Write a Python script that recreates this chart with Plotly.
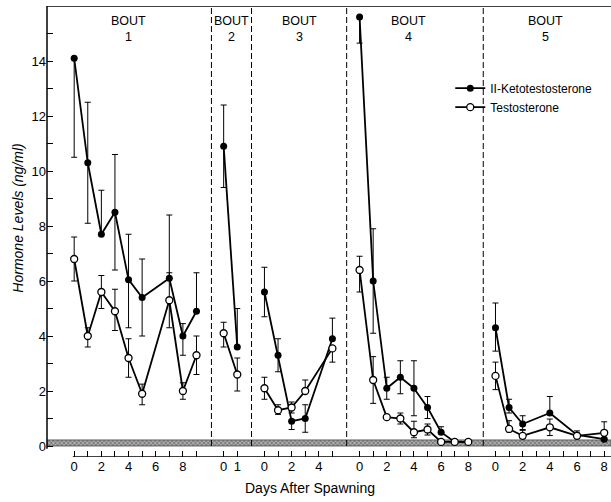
import plotly.graph_objects as go

# ---------------- data ----------------
bout_names = ["BOUT<br>1", "BOUT<br>2", "BOUT<br>3", "BOUT<br>4", "BOUT<br>5"]
bout_offsets = [0, 11, 14, 21, 31]          # position of day 0 of each bout on the shared axis
bout_last_day = [9, 1, 5, 8, 8]             # last tick of each bout
bout_label_step = [2, 1, 2, 2, 2]
bout_centers = [4.0, 11.6, 16.6, 24.6, 34.7]
dividers = [10.1, 13.05, 20.05, 30.1]

# 11-Ketotestosterone
kt_days = [[0, 1, 2, 3, 4, 5, 7, 8, 9], [0, 1], [0, 1, 2, 3, 5],
           [0, 1, 2, 3, 4, 5, 6, 7, 8], [0, 1, 2, 4, 6, 8]]
kt_vals = [[14.1, 10.3, 7.7, 8.5, 6.05, 5.4, 6.1, 4.0, 4.9],
           [10.9, 3.6],
           [5.6, 3.3, 0.9, 1.0, 3.9],
           [15.6, 6.0, 2.1, 2.5, 2.1, 1.4, 0.5, 0.15, 0.15],
           [4.3, 1.4, 0.8, 1.2, 0.4, 0.25]]
kt_err_up = [[0, 2.2, 1.6, 2.1, 1.65, 1.4, 2.3, 0.45, 1.4],
             [1.5, 1.4],
             [0.9, 0.6, 0, 0.5, 0.75],
             [0, 1.9, 0.4, 0.6, 1.0, 0.4, 0.2, 0, 0],
             [0.9, 0.3, 0.3, 0.6, 0.15, 0]]
kt_err_dn = [[3.6, 2.2, 0, 2.1, 1.75, 1.4, 0, 0.7, 0],
             [1.5, 0],
             [0.9, 0.6, 0.3, 0.5, 0],
             [0.95, 1.9, 0.4, 0.6, 1.0, 0.4, 0, 0, 0],
             [0.85, 0.2, 0.2, 0, 0, 0]]

# Testosterone
t_days = [[0, 1, 2, 3, 4, 5, 7, 8, 9], [0, 1], [0, 1, 2, 3, 5],
          [0, 1, 2, 3, 4, 5, 6, 7, 8], [0, 1, 2, 4, 6, 8]]
t_vals = [[6.8, 4.0, 5.6, 4.9, 3.2, 1.9, 5.3, 2.0, 3.3],
          [4.1, 2.6],
          [2.1, 1.3, 1.4, 2.0, 3.55],
          [6.4, 2.4, 1.05, 1.0, 0.5, 0.6, 0.15, 0.15, 0.15],
          [2.55, 0.62, 0.37, 0.68, 0.37, 0.48]]
t_err_up = [[0.8, 0.3, 0.6, 0.8, 0.7, 0.35, 1.0, 0.3, 0.7],
            [0.4, 0.6],
            [0.4, 0.2, 0.2, 0.4, 0],
            [0.5, 0.85, 0, 0.2, 0.4, 0.2, 0, 0, 0],
            [0.5, 0.3, 0.2, 0.3, 0.1, 0.4]]
t_err_dn = [[0.8, 0.4, 0.6, 0.7, 0.7, 0.4, 1.0, 0.3, 0.7],
            [0.5, 0.6],
            [0.4, 0.15, 0.2, 0, 0.5],
            [0.8, 0.85, 0, 0.2, 0.2, 0.2, 0, 0, 0],
            [0.5, 0.1, 0.1, 0.3, 0.1, 0.2]]

y_ticks = [0, 2, 4, 6, 8, 10, 12, 14]
y_minor = [1, 3, 5, 7, 9, 11, 13, 15]
band_top = 0.22
x_min, x_max = -2.0, 39.5
y_min, y_max = -0.4, 16.0

FONT = "Liberation Sans, Arial, sans-serif"


def join(groups_days, groups_vals, groups_up, groups_dn):
    xs, ys, ups, dns = [], [], [], []
    for off, d, v, u, n in zip(bout_offsets, groups_days, groups_vals, groups_up, groups_dn):
        xs += [off + k for k in d] + [None]
        ys += list(v) + [None]
        ups += list(u) + [0]
        dns += list(n) + [0]
    return xs, ys, ups, dns


fig = go.Figure()

# hatched baseline band
fig.add_trace(go.Scatter(
    x=[x_min, x_max, x_max, x_min, x_min], y=[0, 0, band_top, band_top, 0],
    mode="lines", fill="toself", line=dict(color="#444", width=0.8),
    fillcolor="rgba(0,0,0,0)",
    fillpattern=dict(shape="x", size=3, solidity=0.5, fgcolor="#333", bgcolor="#b5b5b5"),
    hoverinfo="skip", showlegend=False))

kx, ky, ku, kd = join(kt_days, kt_vals, kt_err_up, kt_err_dn)
tx, ty, tu, td = join(t_days, t_vals, t_err_up, t_err_dn)

fig.add_trace(go.Scatter(
    x=kx, y=ky, mode="lines+markers", name="II-Ketotestosterone",
    line=dict(color="black", width=1.8),
    marker=dict(symbol="circle", size=7, color="black"),
    error_y=dict(type="data", symmetric=False, array=ku, arrayminus=kd,
                 color="black", thickness=1, width=3),
    connectgaps=False))

fig.add_trace(go.Scatter(
    x=tx, y=ty, mode="lines+markers", name="Testosterone",
    line=dict(color="black", width=1.8),
    marker=dict(symbol="circle", size=7, color="white", line=dict(color="black", width=1.3)),
    error_y=dict(type="data", symmetric=False, array=tu, arrayminus=td,
                 color="black", thickness=1, width=3),
    connectgaps=False))

# x ticks
tickvals, ticktext = [], []
for off, last, step in zip(bout_offsets, bout_last_day, bout_label_step):
    for d in range(last + 1):
        tickvals.append(off + d)
        ticktext.append(str(d) if d % step == 0 else "")

shapes = []
for xd in dividers:
    shapes.append(dict(type="line", xref="x", yref="y", x0=xd, x1=xd, y0=0, y1=y_max,
                       line=dict(color="black", width=1, dash="6px,3px")))
shapes.append(dict(type="line", xref="paper", yref="y", x0=0, x1=0, y0=-0.1, y1=y_max,
                   line=dict(color="black", width=1.5)))
shapes.append(dict(type="line", xref="paper", yref="y", x0=0, x1=1, y0=y_max, y1=y_max,
                   line=dict(color="black", width=1.5)))
shapes.append(dict(type="line", xref="x", yref="y", x0=-0.1, x1=x_max, y0=y_min, y1=y_min,
                   line=dict(color="black", width=1.5)))

annotations = []
for c, name in zip(bout_centers, bout_names):
    annotations.append(dict(x=c, y=15.15, xref="x", yref="y", text=name, showarrow=False,
                            font=dict(family=FONT, size=12.5, color="black"),
                            xanchor="center", yanchor="middle"))
annotations.append(dict(x=-0.052, y=0.53, xref="paper", yref="paper",
                        text="<i>Hormone Levels (ng/ml)</i>", textangle=-90, showarrow=False,
                        font=dict(family=FONT, size=14, color="black"),
                        xanchor="center", yanchor="middle"))
annotations.append(dict(x=0.467, y=-0.069, xref="paper", yref="paper",
                        text="Days After Spawning", showarrow=False,
                        font=dict(family=FONT, size=14, color="black"),
                        xanchor="center", yanchor="middle"))

fig.update_layout(
    width=611, height=502,
    margin=dict(l=47, r=0, t=6, b=45, autoexpand=False),
    paper_bgcolor="white", plot_bgcolor="white",
    font=dict(family=FONT, size=13, color="black"),
    showlegend=True,
    legend=dict(x=0.715, y=0.85, xanchor="left", yanchor="top", bgcolor="rgba(0,0,0,0)",
                font=dict(family=FONT, size=12, color="black"), itemwidth=30,
                tracegroupgap=0),
    shapes=shapes, annotations=annotations,
    xaxis=dict(range=[x_min, x_max], tickmode="array", tickvals=tickvals, ticktext=ticktext,
               ticks="inside", ticklen=6, tickcolor="black", tickwidth=1,
               showline=False, showgrid=False, zeroline=False, automargin=False,
               tickfont=dict(family=FONT, size=13, color="black")),
    yaxis=dict(range=[y_min, y_max], tickmode="array", tickvals=y_ticks,
               ticks="inside", ticklen=6, tickcolor="black", tickwidth=1,
               minor=dict(tickvals=y_minor, ticks="inside", ticklen=6,
                          tickcolor="black", tickwidth=1),
               showline=False, showgrid=False, zeroline=False, automargin=False,
               tickfont=dict(family=FONT, size=13, color="black")),
)

fig.write_html("out.html", config={"displayModeBar": False},
               post_script="document.body.style.margin='0';document.body.style.overflow='hidden';")
